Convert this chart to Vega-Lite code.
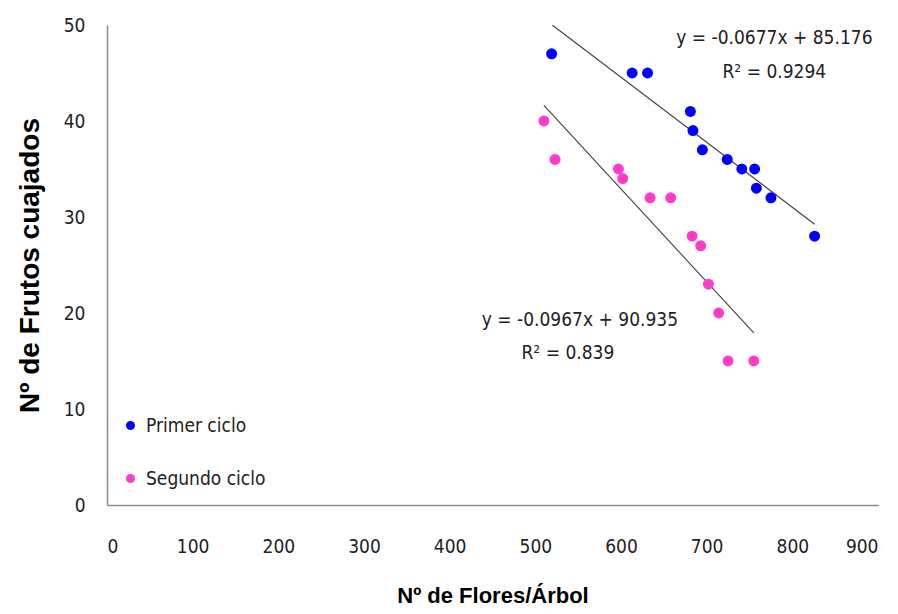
{
  "$schema": "https://vega.github.io/schema/vega-lite/v6.json",
  "autosize": "none",
  "width": 771,
  "height": 480,
  "padding": {"left": 107, "top": 25, "right": 20, "bottom": 109},
  "background": "white",
  "config": {
    "view": {"stroke": null},
    "font": "DejaVu Sans Condensed",
    "axis": {
      "grid": false,
      "ticks": false,
      "domainColor": "#8c8c8c",
      "domainWidth": 1.5,
      "labelFont": "Liberation Sans Narrow, DejaVu Sans Condensed, sans-serif",
      "labelFontSize": 19,
      "labelColor": "#222222",
      "titleFont": "Liberation Sans, Arial, sans-serif",
      "titleFontWeight": "bold",
      "titleColor": "#000000"
    }
  },
  "datasets": {
    "puntos": [
      {"flores": 519, "frutos": 47, "ciclo": "Primer ciclo"},
      {"flores": 613, "frutos": 45, "ciclo": "Primer ciclo"},
      {"flores": 631, "frutos": 45, "ciclo": "Primer ciclo"},
      {"flores": 681, "frutos": 41, "ciclo": "Primer ciclo"},
      {"flores": 684, "frutos": 39, "ciclo": "Primer ciclo"},
      {"flores": 695, "frutos": 37, "ciclo": "Primer ciclo"},
      {"flores": 724, "frutos": 36, "ciclo": "Primer ciclo"},
      {"flores": 741, "frutos": 35, "ciclo": "Primer ciclo"},
      {"flores": 756, "frutos": 35, "ciclo": "Primer ciclo"},
      {"flores": 758, "frutos": 33, "ciclo": "Primer ciclo"},
      {"flores": 775, "frutos": 32, "ciclo": "Primer ciclo"},
      {"flores": 826, "frutos": 28, "ciclo": "Primer ciclo"},
      {"flores": 510, "frutos": 40, "ciclo": "Segundo ciclo"},
      {"flores": 523, "frutos": 36, "ciclo": "Segundo ciclo"},
      {"flores": 597, "frutos": 35, "ciclo": "Segundo ciclo"},
      {"flores": 602, "frutos": 34, "ciclo": "Segundo ciclo"},
      {"flores": 634, "frutos": 32, "ciclo": "Segundo ciclo"},
      {"flores": 658, "frutos": 32, "ciclo": "Segundo ciclo"},
      {"flores": 683, "frutos": 28, "ciclo": "Segundo ciclo"},
      {"flores": 693, "frutos": 27, "ciclo": "Segundo ciclo"},
      {"flores": 702, "frutos": 23, "ciclo": "Segundo ciclo"},
      {"flores": 714, "frutos": 20, "ciclo": "Segundo ciclo"},
      {"flores": 725, "frutos": 15, "ciclo": "Segundo ciclo"},
      {"flores": 755, "frutos": 15, "ciclo": "Segundo ciclo"}
    ],
    "tendencias": [
      {"flores": 520, "frutos": 49.97, "serie": "Primer ciclo"},
      {"flores": 826, "frutos": 29.25, "serie": "Primer ciclo"},
      {"flores": 510, "frutos": 41.62, "serie": "Segundo ciclo"},
      {"flores": 755, "frutos": 17.93, "serie": "Segundo ciclo"}
    ],
    "ecuaciones": [
      {"flores": 779, "frutos": 48.6, "texto": "y = -0.0677x + 85.176"},
      {"flores": 779, "frutos": 45.1, "texto": "R² = 0.9294"},
      {"flores": 552, "frutos": 19.3, "texto": "y = -0.0967x + 90.935"},
      {"flores": 538, "frutos": 15.8, "texto": "R² = 0.839"}
    ]
  },
  "layer": [
    {
      "data": {"name": "tendencias"},
      "mark": {"type": "line", "color": "#404040", "strokeWidth": 1.1},
      "encoding": {
        "x": {"field": "flores", "type": "quantitative"},
        "y": {"field": "frutos", "type": "quantitative"},
        "detail": {"field": "serie"}
      }
    },
    {
      "data": {"name": "puntos"},
      "mark": {"type": "point", "shape": "circle", "filled": true, "opacity": 1, "size": 120},
      "encoding": {
        "x": {
          "field": "flores",
          "type": "quantitative",
          "scale": {"domain": [0, 900], "nice": false},
          "axis": {"values": [0, 100, 200, 300, 400, 500, 600, 700, 800, 900], "labelPadding": 32, "title": "Nº de Flores/Árbol", "titleFontSize": 22, "titlePadding": 29}
        },
        "y": {
          "field": "frutos",
          "type": "quantitative",
          "scale": {"domain": [0, 50], "nice": false},
          "axis": {"values": [0, 10, 20, 30, 40, 50], "labelPadding": 22, "title": "Nº de Frutos cuajados", "titleFontSize": 28, "titlePadding": 19}
        },
        "color": {
          "field": "ciclo",
          "type": "nominal",
          "scale": {"domain": ["Primer ciclo", "Segundo ciclo"], "range": ["#0000ff", "#ff3cc8"]},
          "legend": {
            "title": null,
            "orient": "none",
            "legendX": 14,
            "legendY": 391,
            "symbolType": "circle",
            "symbolSize": 80,
            "labelFont": "Liberation Sans Narrow, DejaVu Sans Condensed, sans-serif",
            "labelFontSize": 19,
            "labelColor": "#222222",
            "rowPadding": 33,
            "labelOffset": 6
          }
        }
      }
    },
    {
      "data": {"name": "ecuaciones"},
      "mark": {"type": "text", "font": "Liberation Sans Narrow, DejaVu Sans Condensed, sans-serif", "fontSize": 19, "color": "#222222", "align": "center", "baseline": "middle"},
      "encoding": {
        "x": {"field": "flores", "type": "quantitative"},
        "y": {"field": "frutos", "type": "quantitative"},
        "text": {"field": "texto"}
      }
    }
  ]
}
